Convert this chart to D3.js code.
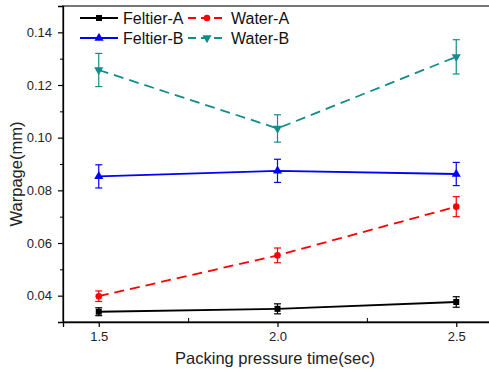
<!DOCTYPE html>
<html>
<head>
<meta charset="utf-8">
<script src="https://cdn.jsdelivr.net/npm/d3@7"></script>
<style>
	body { margin: 0; background: #fff; }
	svg { display: block; font-family: "Liberation Sans", Arial, sans-serif; }
</style>
</head>
<body>
<svg id="chart" width="489" height="372"></svg>
<script>
/* data */
var times = [1.5, 2.0, 2.5];
var x_ticks = [1.5, 2.0, 2.5];
var x_minor = [1.75, 2.25];
var y_ticks = [0.04, 0.06, 0.08, 0.10, 0.12, 0.14];
var y_minor = [0.05, 0.07, 0.09, 0.11, 0.13];

var feltier_a = [0.0339, 0.0350, 0.0376];
var feltier_a_err = [0.0015, 0.0019, 0.0020];
var water_a = [0.0398, 0.0553, 0.0738];
var water_a_err = [0.0020, 0.0028, 0.0038];
var feltier_b = [0.0853, 0.0874, 0.0862];
var feltier_b_err = [0.0044, 0.0044, 0.0044];
var water_b = [0.1257, 0.1035, 0.1307];
var water_b_err = [0.0063, 0.0052, 0.0065];

var series_names = ["Feltier-A", "Water-A", "Feltier-B", "Water-B"];

var series = [
	{ name: series_names[0], values: feltier_a, err: feltier_a_err, color: "#000000", dash: null, symbol: d3.symbolSquare, size: 36, rot: 0 },
	{ name: series_names[1], values: water_a, err: water_a_err, color: "#ff0000", dash: "10,6", symbol: d3.symbolCircle, size: 34, rot: 0 },
	{ name: series_names[2], values: feltier_b, err: feltier_b_err, color: "#0000ff", dash: null, symbol: d3.symbolTriangle, size: 36, rot: 0 },
	{ name: series_names[3], values: water_b, err: water_b_err, color: "#128c8c", dash: "10,6", symbol: d3.symbolTriangle, size: 36, rot: 180 }
];

var margin = { left: 63, top: 6, right: -3, bottom: 50 };
var width = 489, height = 372;

var svg = d3.select("#chart");

var x = d3.scaleLinear().domain([1.4, 2.6]).range([margin.left, width - margin.right]);
var y = d3.scaleLinear().domain([0.03, 0.15]).range([height - margin.bottom, margin.top]);

// frame (top and right in grey, axes in black)
svg.append("rect")
	.attr("x", x(1.4)).attr("y", y(0.15))
	.attr("width", x(2.6) - x(1.4)).attr("height", y(0.03) - y(0.15))
	.attr("fill", "none").attr("stroke", "#777").attr("stroke-width", 2);

// x axis
var x_axis = d3.axisBottom(x).tickValues(x_ticks).tickFormat(d3.format(".1f")).tickSize(5).tickPadding(5);
var gx = svg.append("g").attr("transform", "translate(0," + y(0.03) + ")").call(x_axis);
gx.select(".domain").attr("stroke", "#000").attr("stroke-width", 1.3);
gx.selectAll(".tick line").attr("stroke-width", 1.2);
gx.selectAll(".tick text").attr("font-size", 13).attr("fill", "#222").attr("font-family", "Liberation Sans, Arial, sans-serif");
svg.append("g").attr("transform", "translate(0," + y(0.03) + ")")
	.call(d3.axisBottom(x).tickValues(x_minor).tickSize(-4).tickFormat(""))
	.call(function(g){ g.select(".domain").remove(); });

// y axis
var y_axis = d3.axisLeft(y).tickValues(y_ticks).tickFormat(d3.format(".2f")).tickSize(5).tickPadding(6);
var gy = svg.append("g").attr("transform", "translate(" + x(1.4) + ",0)").call(y_axis);
gy.select(".domain").attr("stroke", "#000").attr("stroke-width", 1.3);
gy.selectAll(".tick line").attr("stroke-width", 1.2);
gy.selectAll(".tick text").attr("font-size", 13).attr("fill", "#222").attr("font-family", "Liberation Sans, Arial, sans-serif");
svg.append("g").attr("transform", "translate(" + x(1.4) + ",0)")
	.call(d3.axisLeft(y).tickValues(y_minor).tickSize(3).tickFormat(""))
	.call(function(g){ g.select(".domain").remove(); });

// axis titles
svg.append("text")
	.attr("x", 275).attr("y", 364)
	.attr("text-anchor", "middle").attr("font-size", 16.5).attr("fill", "#222")
	.text("Packing pressure time(sec)");

svg.append("text")
	.attr("transform", "translate(22,174) rotate(-90)")
	.attr("text-anchor", "middle").attr("font-size", 16.5).attr("fill", "#222")
	.text("Warpage(mm)");

// series
var line = d3.line().x(function(d, i){ return x(times[i]); }).y(function(d){ return y(d); });

series.forEach(function(s){
	var g = svg.append("g");

	g.append("path")
	.attr("d", line(s.values))
	.attr("fill", "none")
	.attr("stroke", s.color)
	.attr("stroke-width", 1.8)
	.attr("stroke-dasharray", s.dash);

	s.values.forEach(function(v, i){
		var cx = x(times[i]);
		var lo = y(v - s.err[i]), hi = y(v + s.err[i]);
		g.append("line").attr("x1", cx).attr("x2", cx).attr("y1", lo).attr("y2", hi)
		.attr("stroke", s.color).attr("stroke-width", 1.2);
		[lo, hi].forEach(function(yy){
			g.append("line").attr("x1", cx - 3.5).attr("x2", cx + 3.5).attr("y1", yy).attr("y2", yy)
			.attr("stroke", s.color).attr("stroke-width", 1.2);
		});
		g.append("path")
		.attr("d", d3.symbol().type(s.symbol).size(s.size)())
		.attr("transform", "translate(" + cx + "," + y(v) + ") rotate(" + s.rot + ")")
		.attr("fill", s.color);
	});
});

// legend
var legend_pos = [[80, 18], [188, 18], [80, 38], [188, 38]];
series.forEach(function(s, i){
	var lx = legend_pos[i][0], ly = legend_pos[i][1];
	var g = svg.append("g").attr("transform", "translate(" + lx + "," + ly + ")");
	g.append("line").attr("x1", 0).attr("x2", 38).attr("y1", 0).attr("y2", 0)
	.attr("stroke", s.color).attr("stroke-width", 1.8).attr("stroke-dasharray", s.dash ? "8,5" : null);
	g.append("path")
	.attr("d", d3.symbol().type(s.symbol).size(s.size)())
	.attr("transform", "translate(19,0) rotate(" + s.rot + ")")
	.attr("fill", s.color);
	g.append("text").attr("x", 43).attr("y", 5.8)
	.attr("font-size", 16).attr("fill", "#111")
	.text(s.name);
});
</script>
</body>
</html>
